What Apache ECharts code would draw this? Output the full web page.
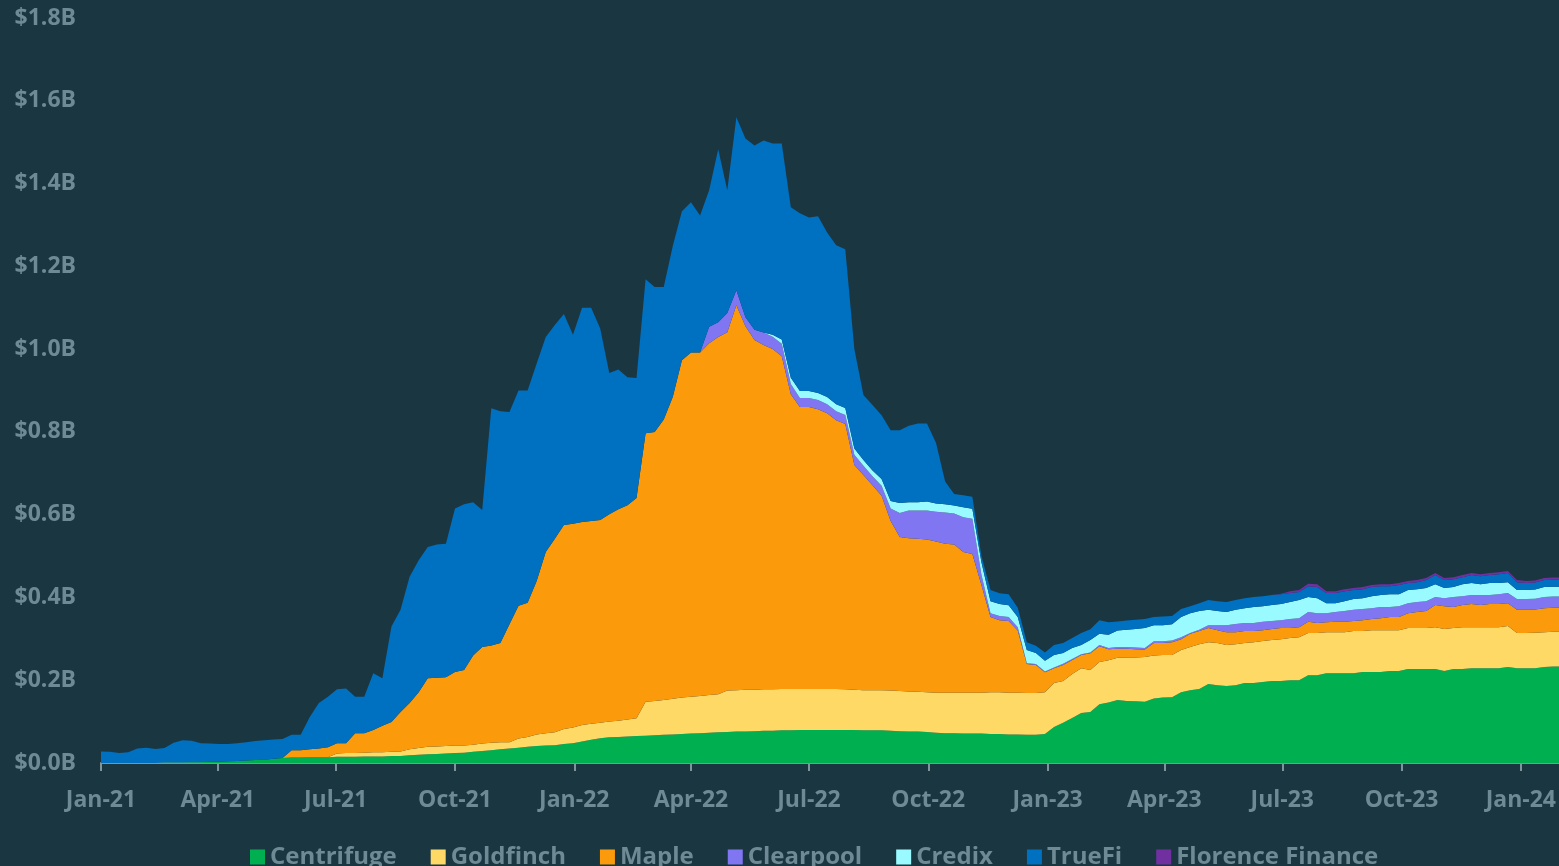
<!DOCTYPE html>
<html>
<head>
<meta charset="utf-8">
<script src="https://cdn.jsdelivr.net/npm/echarts@6/dist/echarts.min.js"></script>
<style>
html,body{margin:0;padding:0;background:#1a3641;}
#chart{width:1559px;height:866px;}
</style>
</head>
<body>
<div id="chart"></div>
<script>
// Weekly samples starting 2021-01-01, values in $M
const startDate = [2021, 0, 1];
const stepDays = 7;

const centrifuge = [0,0,0,0,0,0,0,
1,1,1,2,2,3,3,4,5,6,7,8,10,12,
13,13,14,14,14,15,15,15,16,16,16,17,17,19,20,21,22,23,24,25,27,29,31,33,35,37,39,41,42,43,46,48,
52,56,60,62,63,64,65,66,67,68,69,70,71,72,
73,74,75,76,76,77,78,78,79,79,80,80,80,80,80,80,80,
79,79,79,78,77,76,76,75,73,72,72,71,71,71,70,70,69,69,68,68,70,
87,97,109,121,123,142,146,
152,150,149,148,156,158,159,171,176,179,191,188,186,188,193,193,196,
198,198,200,200,212,212,217,217,217,217,220,220,220,222,222,227,227,227,227,222,227,227,229,229,229,229,232,229,229,229,232,233,233];

const goldfinch = [0,0,0,0,0,0,0,0,0,0,0,0,0,0,0,0,0,0,0,0,0,0,0,0,0,0,
8,9,9,9,10,10,10,11,14,16,18,18,18,18,17,17,18,18,17,15,22,24,28,30,31,36,38,
40,39,37,38,39,41,43,82,83,84,86,88,89,90,
91,92,100,100,101,100,100,100,100,100,99,99,99,99,99,98,97,
97,97,97,97,97,97,96,96,97,98,98,99,99,99,101,101,101,101,101,101,101,
106,101,106,108,102,102,102,
102,105,106,108,104,103,102,102,104,108,101,102,99,99,97,99,99,
99,101,102,104,102,102,99,99,99,102,99,101,101,99,99,99,99,99,101,102,99,101,99,99,99,99,99,85,85,86,84,84,84];

const maple = [0,0,0,0,0,0,0,0,0,0,0,0,0,0,0,0,0,0,0,0,0,
18,18,19,21,24,25,24,48,47,54,64,72,95,112,135,166,166,166,178,183,216,233,235,240,285,321,324,371,438,468,493,492,
490,490,490,501,511,518,532,649,650,678,730,815,832,830,
850,863,866,930,878,845,832,822,804,712,681,681,676,666,649,641,543,
520,495,470,410,372,370,370,369,365,360,358,340,335,260,182,174,173,150,70,68,48,
36,39,34,32,40,38,27,
22,21,20,18,30,29,31,26,32,32,34,31,31,29,29,27,26,
27,27,24,24,27,24,24,25,25,24,26,27,29,32,32,36,39,41,54,55,51,54,56,54,56,56,55,56,56,56,58,58,58];

const clearpool = [0,0,0,0,0,0,0,0,0,0,0,0,0,0,0,0,0,0,0,0,0,0,0,0,0,0,0,0,0,0,0,0,0,0,
0,0,0,0,0,0,0,0,0,0,0,0,0,0,0,0,0,0,0,0,0,0,0,0,0,0,0,0,0,0,0,0,0,
40,36,46,36,22,25,30,30,30,25,22,22,22,22,22,22,25,
22,22,24,30,58,67,68,70,72,75,75,84,85,25,9,10,10,8,2,2,2,
2,3,2,2,2,3,3,
4,4,4,4,4,4,4,5,2,3,7,12,17,20,19,19,20,
19,19,22,22,24,24,22,24,26,27,27,26,27,24,26,24,24,24,19,19,24,21,22,24,22,24,25,26,26,26,27,27,27];

const credix = [0,0,0,0,0,0,0,0,0,0,0,0,0,0,0,0,0,0,0,0,0,0,0,0,0,0,0,0,0,0,0,0,0,0,0,0,0,
0,0,0,0,0,0,0,0,0,0,0,0,0,0,0,0,0,0,0,0,0,0,0,0,0,0,0,0,0,0,0,0,0,0,0,0,0,
5,10,15,17,17,17,17,17,17,15,
14,14,16,18,24,20,20,22,20,20,19,24,24,30,29,29,28,25,32,27,26,
30,26,27,22,30,27,32,
40,42,45,48,39,39,39,49,48,45,37,34,32,34,36,39,38,
39,39,41,44,36,36,24,21,24,26,26,29,29,31,29,32,31,32,31,25,24,29,29,26,29,27,26,22,22,22,24,24,24];

const truefi = [28,27,24,26,35,37,34,35,48,54,52,46,44,43,42,43,44,46,47,47,46,
37,37,78,110,122,130,132,88,88,137,115,231,247,305,319,317,322,323,395,400,370,331,573,560,513,520,513,525,519,516,510,457,
518,515,463,341,338,309,290,372,350,320,365,360,363,331,
330,418,297,418,432,445,464,462,474,412,429,419,427,398,384,383,240,
157,158,154,171,176,185,190,188,146,55,28,29,29,15,27,26,27,22,19,17,20,
24,24,24,29,26,33,30,
22,22,22,22,20,21,20,19,17,19,24,24,24,24,24,24,24,
24,24,22,19,26,27,25,25,24,22,22,22,21,19,22,17,17,19,22,19,19,17,19,19,19,21,22,19,17,17,17,17,17];

const florence = [0,0,0,0,0,0,0,0,0,0,0,0,0,0,0,0,0,0,0,0,0,0,0,0,0,0,0,0,0,0,0,0,0,0,0,0,0,0,0,0,0,0,0,0,0,0,0,0,0,0,0,0,0,0,0,0,0,0,0,0,0,0,0,0,0,
0,0,0,0,0,0,0,0,0,0,0,0,0,0,0,0,0,0,0,0,0,0,0,0,0,0,0,0,0,0,0,0,0,0,0,0,0,0,0,0,0,0,0,0,0,0,0,0,0,0,0,0,0,0,0,0,0,0,0,0,0,0,0,0,0,
1,4,5,6,7,4,4,5,5,5,5,5,5,5,5,5,5,5,5,5,5,5,5,5,5,5,5,5,5,5,5,5];

const seriesNames = ['Centrifuge','Goldfinch','Maple','Clearpool','Credix','TrueFi','Florence Finance'];
const seriesValues = [centrifuge, goldfinch, maple, clearpool, credix, truefi, florence];
const seriesColors = ['#00b050','#ffd966','#fb9a0b','#8176f2','#99fbff','#0070c0','#7030a0'];

const monthNames = ['Jan','Feb','Mar','Apr','May','Jun','Jul','Aug','Sep','Oct','Nov','Dec'];
const yTickValues = [0,200,400,600,800,1000,1200,1400,1600,1800];
const yTickLabels = ['$0.0B','$0.2B','$0.4B','$0.6B','$0.8B','$1.0B','$1.2B','$1.4B','$1.6B','$1.8B'];

const n = centrifuge.length;
const dates = [];
for (let k = 0; k < n; k++) dates.push(new Date(startDate[0], startDate[1], startDate[2] + k*stepDays).getTime());

const labelColor = '#6e8a94';
const font = 'Open Sans';
const DAY = 86400000;

const chart = echarts.init(document.getElementById('chart'));
chart.setOption({
  backgroundColor: '#1a3641',
  animation: false,
  grid: { left: 101, right: 0, top: 18, bottom: 103, containLabel: false },
  legend: {
    data: seriesNames,
    left: 245, top: 840,
    itemWidth: 15, itemHeight: 15, itemGap: 34,
    icon: 'rect',
    textStyle: { color: labelColor, fontSize: 24, fontWeight: 'bold', fontFamily: font }
  },
  xAxis: {
    type: 'time',
    min: new Date(2021, 0, 1).getTime(), max: new Date(2024, 0, 30).getTime(),
    splitNumber: 12, minInterval: 91 * DAY, maxInterval: 92 * DAY,
    axisLine: { show: true, lineStyle: { color: '#7f949b', width: 2 } },
    axisTick: { show: true, length: 8, lineStyle: { color: '#7f949b', width: 2 } },
    axisLabel: {
      color: labelColor, fontSize: 23, fontWeight: 'bold', fontFamily: font, margin: 26,
      hideOverlap: false, showMinLabel: true, showMaxLabel: false,
      formatter: function (v) { const d = new Date(v); return monthNames[d.getMonth()] + '-' + String(d.getFullYear()).slice(2); }
    },
    splitLine: { show: false }
  },
  yAxis: {
    type: 'value', min: 0, max: 1800, interval: 200,
    axisLine: { show: false }, axisTick: { show: false }, splitLine: { show: false },
    axisLabel: {
      color: labelColor, fontSize: 23, fontWeight: 'bold', fontFamily: font, margin: 25,
      formatter: function (v) { const i = yTickValues.indexOf(v); return i >= 0 ? yTickLabels[i] : ''; }
    }
  },
  series: seriesNames.map(function (name, si) {
    return {
      name: name, type: 'line', stack: 'total', symbol: 'none', showSymbol: false,
      lineStyle: { width: 0 },
      itemStyle: { color: seriesColors[si] },
      areaStyle: { color: seriesColors[si], opacity: 1 },
      data: seriesValues[si].map(function (v, k) { return [dates[k], v]; })
    };
  })
});
</script>
</body>
</html>
